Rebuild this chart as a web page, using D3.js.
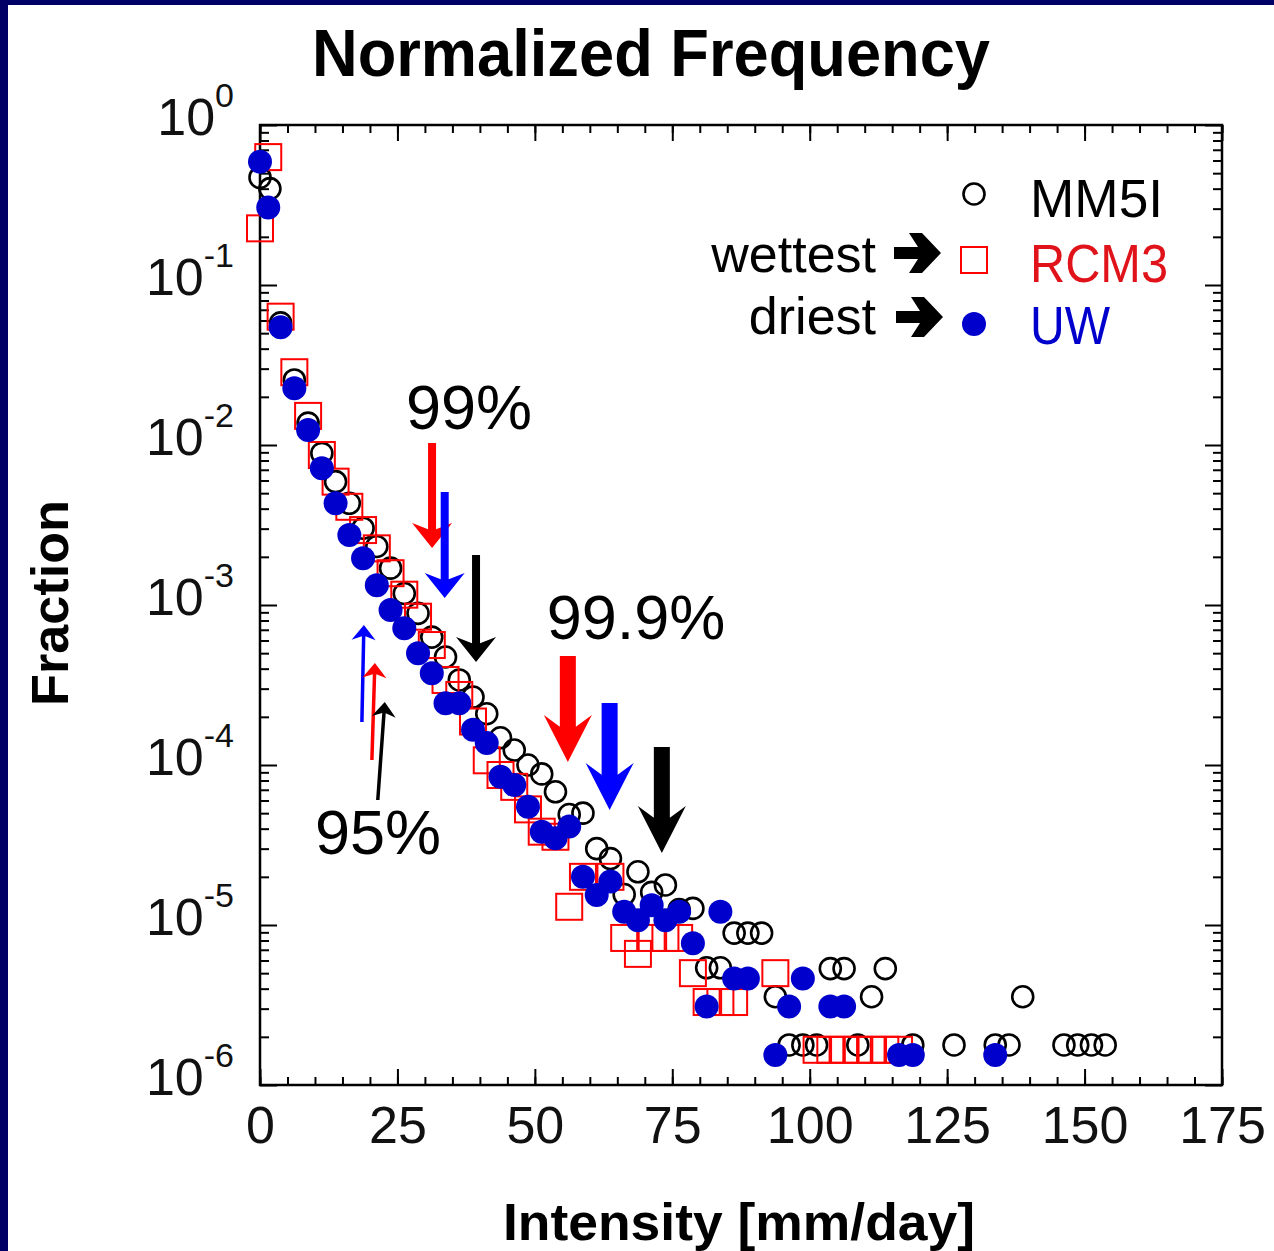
<!DOCTYPE html>
<html>
<head>
<meta charset="utf-8">
<script src="https://cdn.jsdelivr.net/npm/d3@7"></script>
<style>
  body { margin: 0; background: #fff; }
  svg { display: block; }
  text { font-family: "Liberation Sans", Arial, Helvetica, sans-serif; }
</style>
</head>
<body>
<svg id="chart" width="1274" height="1251"></svg>
<script>
// ---- data ----
var mm5iX = [0, 1.8, 3.75, 6.25, 8.75, 11.25, 13.75, 16.25, 18.75, 21.25, 23.75, 26.25, 28.75, 31.25, 33.75, 36.25,
    38.75, 41.25, 43.75, 46.25, 48.75, 51.25, 53.75, 56.25, 58.75, 61.25, 63.75, 66.25, 68.75, 71.25, 73.75, 76.25,
    78.75, 81.25, 83.75, 86.25, 88.75, 91.25, 93.75, 96.25, 98.75, 101.25, 103.75, 106.25, 108.75, 111.25, 113.75,
    118.75, 126.25, 133.75, 136.25, 138.75, 146.25, 148.75, 151.25, 153.75];
var mm5iY = [0.47, 0.40, 0.058, 0.0255, 0.0137, 0.00887, 0.0059, 0.00432, 0.00302, 0.00232, 0.0017, 0.00118, 0.000887,
    0.00063, 0.000473, 0.00034, 0.000266, 0.000209, 0.000148, 0.000124, 0.0001, 8.8e-5, 6.8e-5, 4.9e-5, 5.0e-5, 3.0e-5,
    2.6e-5, 1.55e-5, 2.15e-5, 1.6e-5, 1.78e-5, 1.25e-5, 1.27e-5, 5.4e-6, 5.4e-6, 8.9e-6, 8.9e-6, 8.9e-6, 3.56e-6,
    1.78e-6, 1.78e-6, 1.78e-6, 5.34e-6, 5.34e-6, 1.78e-6, 3.56e-6, 5.34e-6, 1.78e-6, 1.78e-6, 1.78e-6, 1.78e-6, 3.56e-6,
    1.78e-6, 1.78e-6, 1.78e-6, 1.78e-6];

var rcm3X = [0, 1.5, 3.75, 6.25, 8.75, 11.25, 13.75, 16.25, 18.75, 21.25, 23.75, 26.25, 28.75, 31.25, 33.75, 36.25,
    38.75, 41.25, 43.75, 46.25, 48.75, 51.25, 53.75, 56.25, 58.75, 63.75, 66.25, 68.75, 71.25, 73.75, 76.25, 78.75,
    81.25, 83.75, 86.25, 93.75, 101.25, 103.75, 106.25, 108.75, 111.25, 113.75, 116.25];
var rcm3Y = [0.226, 0.63, 0.0634, 0.0285, 0.0152, 0.00866, 0.0059, 0.00411, 0.00294, 0.00226, 0.00158, 0.00116,
    0.000845, 0.000562, 0.00034, 0.000274, 0.000187, 0.000107, 8.66e-5, 7.3e-5, 5.28e-5, 3.83e-5, 3.56e-5, 1.3e-5,
    2.0e-5, 2.0e-5, 8.3e-6, 6.6e-6, 8.3e-6, 8.3e-6, 8.3e-6, 5.0e-6, 3.3e-6, 3.3e-6, 3.3e-6, 5.0e-6, 1.66e-6, 1.66e-6,
    1.66e-6, 1.66e-6, 1.66e-6, 1.66e-6, 1.66e-6];

var uwX = [0, 1.5, 3.75, 6.25, 8.75, 11.25, 13.75, 16.25, 18.75, 21.25, 23.75, 26.25, 28.75, 31.25, 33.75, 36.25,
    38.75, 41.25, 43.75, 46.25, 48.75, 51.25, 53.75, 56.25, 58.75, 61.25, 63.75, 66.25, 68.75, 71.25, 73.75, 76.25,
    78.75, 81.25, 83.75, 86.25, 88.75, 93.75, 96.25, 98.75, 103.75, 106.25, 116.25, 118.75, 133.75];
var uwY = [0.59, 0.305, 0.0544, 0.0226, 0.0124, 0.00715, 0.00432, 0.00274, 0.00196, 0.00133, 0.00093, 0.000715,
    0.000499, 0.000374, 0.000243, 0.000243, 0.000166, 0.000137, 8.45e-5, 7.5e-5, 5.49e-5, 3.83e-5, 3.48e-5, 4.12e-5,
    2.0e-5, 1.54e-5, 1.87e-5, 1.21e-5, 1.07e-5, 1.33e-5, 1.07e-5, 1.21e-5, 7.7e-6, 3.09e-6, 1.21e-5, 4.63e-6, 4.63e-6,
    1.54e-6, 3.09e-6, 4.63e-6, 3.09e-6, 3.09e-6, 1.54e-6, 1.54e-6, 1.54e-6];

var xTicks = [0, 25, 50, 75, 100, 125, 150, 175];
var yDecades = [1, 1e-1, 1e-2, 1e-3, 1e-4, 1e-5, 1e-6];
var yExponents = ["0", "-1", "-2", "-3", "-4", "-5", "-6"];

var seriesNames = ["MM5I", "RCM3", "UW"];
var legendNotes = ["", "wettest", "driest"];

// percentile intensities marked by arrows (order: RCM3, UW, MM5I)
var p99 = [31.3, 33.6, 39.3];
var p999 = [56.0, 63.6, 73.1];
// 95% arrows (order: UW, RCM3, MM5I)
var p95 = [18.9, 20.9, 22.7];

// ---- layout ----
var W = 1274, H = 1251;
var plotL = 260, plotR = 1222, plotT = 125, plotB = 1085;
var svg = d3.select("#chart");

svg.append("rect").attr("width", W).attr("height", H).attr("fill", "#fff");
svg.append("rect").attr("x", 0).attr("y", 0).attr("width", 8).attr("height", H).attr("fill", "#000066");
svg.append("rect").attr("x", 0).attr("y", 0).attr("width", W).attr("height", 5).attr("fill", "#000066");

var x = d3.scaleLinear().domain([0, 175]).range([plotL, plotR]);
var y = d3.scaleLog().domain([1e-6, 1]).range([plotB, plotT]);

// ticks (inward on all four sides)
var minorX = d3.range(0, 176, 5);
var minorY = [];
for (var e = -6; e < 0; e++) {
    for (var m = 2; m <= 9; m++) minorY.push(m * Math.pow(10, e));
}

function styleAxis(g) {
    g.select(".domain").remove();
    g.selectAll(".tick line").attr("stroke", "#000").attr("stroke-width", 2);
}

svg.append("g").attr("transform", "translate(0," + plotB + ")")
    .call(d3.axisBottom(x).tickValues(minorX).tickSize(-8).tickFormat("")).call(styleAxis);
svg.append("g").attr("transform", "translate(0," + plotT + ")")
    .call(d3.axisTop(x).tickValues(minorX).tickSize(-8).tickFormat("")).call(styleAxis);
svg.append("g").attr("transform", "translate(0," + plotT + ")")
    .call(d3.axisTop(x).tickValues(xTicks).tickSize(-16).tickFormat("")).call(styleAxis);

var xAxis = svg.append("g").attr("transform", "translate(0," + plotB + ")")
    .call(d3.axisBottom(x).tickValues(xTicks).tickSize(-16).tickPadding(21).tickFormat(d3.format("d")))
    .call(styleAxis);
xAxis.selectAll("text").attr("font-size", 52).attr("fill", "#111")
    .style("font-family", '"Liberation Sans", Arial, sans-serif');

svg.append("g").attr("transform", "translate(" + plotL + ",0)")
    .call(d3.axisLeft(y).tickValues(minorY).tickSize(-9).tickFormat("")).call(styleAxis);
svg.append("g").attr("transform", "translate(" + plotL + ",0)")
    .call(d3.axisLeft(y).tickValues(yDecades).tickSize(-17).tickFormat("")).call(styleAxis);
svg.append("g").attr("transform", "translate(" + plotR + ",0)")
    .call(d3.axisRight(y).tickValues(minorY).tickSize(-9).tickFormat("")).call(styleAxis);
svg.append("g").attr("transform", "translate(" + plotR + ",0)")
    .call(d3.axisRight(y).tickValues(yDecades).tickSize(-17).tickFormat("")).call(styleAxis);

// frame
svg.append("rect").attr("x", plotL).attr("y", plotT).attr("width", plotR - plotL).attr("height", plotB - plotT)
    .attr("fill", "none").attr("stroke", "#000").attr("stroke-width", 2.5);

// y tick labels 10^n
yDecades.forEach(function (d, i) {
    var t = svg.append("text").attr("x", 234).attr("y", y(d) + 10)
        .attr("text-anchor", "end").attr("font-size", 52).attr("fill", "#111");
    t.append("tspan").text("10");
    t.append("tspan").attr("font-size", 34).attr("dy", -28).text(yExponents[i]);
});

// axis titles
svg.append("text").attr("x", 312).attr("y", 76).attr("font-size", 66).attr("font-weight", "bold")
    .attr("textLength", 678).attr("lengthAdjust", "spacingAndGlyphs").text("Normalized Frequency");
svg.append("text").attr("transform", "translate(68,603) rotate(-90)").attr("text-anchor", "middle")
    .attr("font-size", 52).attr("font-weight", "bold")
    .attr("textLength", 206).attr("lengthAdjust", "spacingAndGlyphs").text("Fraction");
svg.append("text").attr("x", 739).attr("y", 1240).attr("text-anchor", "middle")
    .attr("font-size", 52).attr("font-weight", "bold")
    .attr("textLength", 472).attr("lengthAdjust", "spacingAndGlyphs").text("Intensity [mm/day]");

// ---- markers ----
var plot = svg.append("g");
function toPts(xs, ys) { return xs.map(function (v, i) { return [v, ys[i]]; }); }

plot.selectAll(".mm5i").data(toPts(mm5iX, mm5iY)).enter().append("circle")
    .attr("cx", function (d) { return x(d[0]); }).attr("cy", function (d) { return y(d[1]); })
    .attr("r", 10.5).attr("fill", "none").attr("stroke", "#000").attr("stroke-width", 2.6);

plot.selectAll(".rcm3").data(toPts(rcm3X, rcm3Y)).enter().append("rect")
    .attr("x", function (d) { return x(d[0]) - 13; }).attr("y", function (d) { return y(d[1]) - 13; })
    .attr("width", 26).attr("height", 26).attr("fill", "none").attr("stroke", "#f00").attr("stroke-width", 2);

plot.selectAll(".uw").data(toPts(uwX, uwY)).enter().append("circle")
    .attr("cx", function (d) { return x(d[0]); }).attr("cy", function (d) { return y(d[1]); })
    .attr("r", 12).attr("fill", "#0000cc");

// ---- arrows ----
function arrow(x1, y1, x2, y2, sw, hw, hh, color) {
    var L = Math.hypot(x2 - x1, y2 - y1);
    var ang = Math.atan2(y2 - y1, x2 - x1) * 180 / Math.PI;
    var n = hh * 0.25;
    var pts = [[0, -sw / 2], [L - hh + n, -sw / 2], [L - hh, -hw / 2], [L, 0],
        [L - hh, hw / 2], [L - hh + n, sw / 2], [0, sw / 2]];
    svg.append("path").attr("d", "M" + pts.join("L") + "Z").attr("fill", color)
        .attr("transform", "translate(" + x1 + "," + y1 + ") rotate(" + ang + ")");
}
var arrowColors = ["#ff0000", "#0000ff", "#000000"];
var a99top = [443, 492, 555], a99tip = [548, 598, 662];
p99.forEach(function (v, i) { arrow(x(v), a99top[i], x(v), a99tip[i], 8, 40, 25, arrowColors[i]); });
var a999top = [656, 703, 747], a999tip = [762, 810, 853];
p999.forEach(function (v, i) { arrow(x(v), a999top[i], x(v), a999tip[i], 16, 48, 47, arrowColors[i]); });
var c95 = ["#0000ff", "#ff0000", "#000000"];
var a95bot = [722, 760, 800], a95tip = [625, 663, 702], a95dx = [-2, -3, -7];
p95.forEach(function (v, i) {
    arrow(x(v) + a95dx[i], a95bot[i], x(v), a95tip[i], 3.5, 24, 15, c95[i]);
});

svg.append("text").attr("x", 469).attr("y", 429).attr("text-anchor", "middle").attr("font-size", 63).text("99%");
svg.append("text").attr("x", 636).attr("y", 639).attr("text-anchor", "middle").attr("font-size", 63).text("99.9%");
svg.append("text").attr("x", 378).attr("y", 854).attr("text-anchor", "middle").attr("font-size", 63).text("95%");

// ---- legend ----
var legY = [194, 260, 324];
var labelBase = [217, 282, 344];
var labelColors = ["#000", "#e0121a", "#0000cc"];
svg.append("circle").attr("cx", 974).attr("cy", legY[0]).attr("r", 10.5)
    .attr("fill", "none").attr("stroke", "#000").attr("stroke-width", 2.6);
svg.append("rect").attr("x", 974 - 13).attr("y", legY[1] - 13).attr("width", 26).attr("height", 26)
    .attr("fill", "none").attr("stroke", "#f00").attr("stroke-width", 2);
svg.append("circle").attr("cx", 974).attr("cy", legY[2]).attr("r", 12).attr("fill", "#0000cc");
seriesNames.forEach(function (s, i) {
    svg.append("text").attr("x", 1030).attr("y", labelBase[i]).attr("font-size", 54)
        .attr("fill", labelColors[i]).attr("textLength", [133, 138, 80][i]).attr("lengthAdjust", "spacingAndGlyphs")
        .text(s);
    if (legendNotes[i]) {
        svg.append("text").attr("x", 876).attr("y", labelBase[i] - 10).attr("text-anchor", "end")
            .attr("font-size", 52).text(legendNotes[i]);
        var ay = legY[i] - 7, ax = 894 + (i - 1) * 2;
        var hp = [[0, -6], [24, -6], [15, -20], [28, -20], [47, 0], [28, 20], [15, 20], [24, 6], [0, 6]];
        svg.append("path").attr("d", "M" + hp.join("L") + "Z").attr("fill", "#000")
            .attr("transform", "translate(" + ax + "," + ay + ")");
    }
});
</script>
</body>
</html>
